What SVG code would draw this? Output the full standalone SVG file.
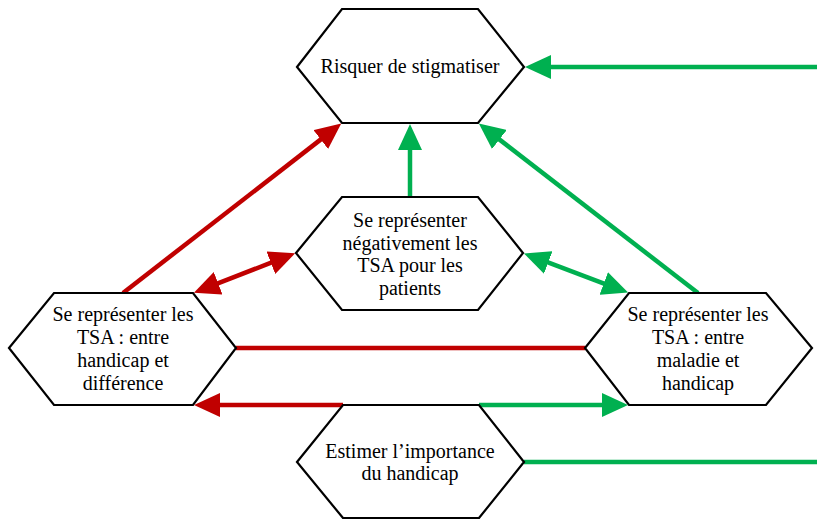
<svg xmlns="http://www.w3.org/2000/svg" width="817" height="519" viewBox="0 0 817 519">
<style>
.hex{fill:#fff;stroke:#000;stroke-width:2.2;stroke-linejoin:miter}
.t{font-family:"Liberation Serif","Times New Roman",serif;font-size:20px;fill:#000;text-anchor:middle}
.r{stroke:#C00000;stroke-width:4.5;fill:none}
.g{stroke:#00B050;stroke-width:4.5;fill:none}
</style>
<defs>
<marker id="ar" viewBox="0 -12 26 24" markerWidth="26" markerHeight="24" refX="1" refY="0" markerUnits="userSpaceOnUse" orient="auto-start-reverse"><path d="M0,-12 L26,0 L0,12 z" fill="#C00000"/></marker>
<marker id="ag" viewBox="0 -12 26 24" markerWidth="26" markerHeight="24" refX="1" refY="0" markerUnits="userSpaceOnUse" orient="auto-start-reverse"><path d="M0,-12 L26,0 L0,12 z" fill="#00B050"/></marker>
</defs>
<g id="connectors">
<line class="g" x1="817" y1="67" x2="550" y2="67" marker-end="url(#ag)"/>
<line class="r" x1="123" y1="293" x2="321.5" y2="138.9" marker-end="url(#ar)"/>
<line class="g" x1="410" y1="197" x2="410" y2="149" marker-end="url(#ag)"/>
<line class="g" x1="698" y1="293" x2="498.6" y2="138.9" marker-end="url(#ag)"/>
<line class="r" x1="217.2" y1="283.6" x2="271.8" y2="262.4" marker-start="url(#ar)" marker-end="url(#ar)"/>
<line class="g" x1="547.3" y1="262.2" x2="604.7" y2="283.8" marker-start="url(#ag)" marker-end="url(#ag)"/>
<line class="r" x1="236" y1="348" x2="585" y2="348"/>
<line class="r" x1="343" y1="405" x2="219" y2="405" marker-end="url(#ar)"/>
<line class="g" x1="479" y1="405" x2="603" y2="405" marker-end="url(#ag)"/>
<line class="g" x1="524" y1="462" x2="817" y2="462"/>
</g>
<g id="top">
<polygon class="hex" points="297,67 342,9 478,9 524,67 478,123 342,123"/>
<text class="t" x="410" y="73">Risquer de stigmatiser</text>
</g>
<g id="middle">
<polygon class="hex" points="296,253 342,197 478,197 523,253 478,310 342,310"/>
<text class="t" x="410" y="227">Se représenter</text>
<text class="t" x="410" y="249.5">négativement les</text>
<text class="t" x="410" y="272">TSA pour les</text>
<text class="t" x="410" y="294.5">patients</text>
</g>
<g id="left">
<polygon class="hex" points="9,348 54,293 193,293 236,348 193,405 54,405"/>
<text class="t" x="123" y="321">Se représenter les</text>
<text class="t" x="123" y="344">TSA : entre</text>
<text class="t" x="123" y="367">handicap et</text>
<text class="t" x="123" y="390">différence</text>
</g>
<g id="right">
<polygon class="hex" points="585,348 629,293 766,293 812,348 766,405 629,405"/>
<text class="t" x="698" y="321">Se représenter les</text>
<text class="t" x="698" y="344">TSA : entre</text>
<text class="t" x="698" y="367">maladie et</text>
<text class="t" x="698" y="390">handicap</text>
</g>
<g id="bottom">
<polygon class="hex" points="297,462 343,405 479,405 524,462 479,518 343,518"/>
<text class="t" x="410" y="458">Estimer l’importance</text>
<text class="t" x="410" y="480">du handicap</text>
</g>
</svg>
